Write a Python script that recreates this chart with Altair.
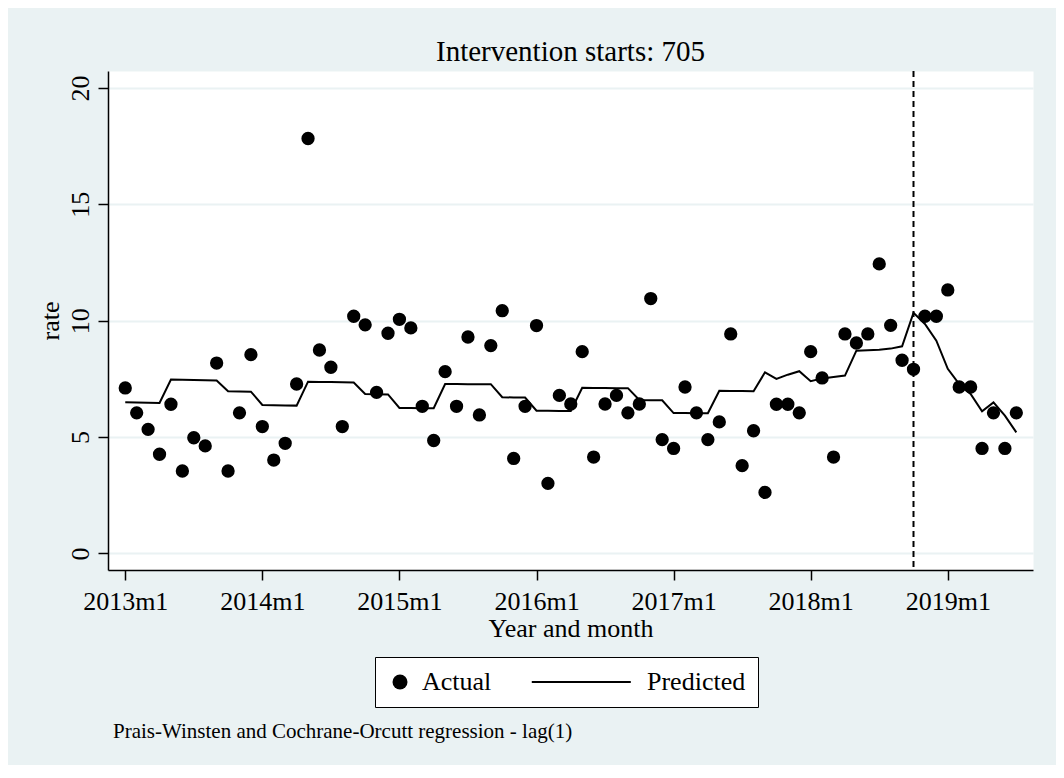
import altair as alt
import pandas as pd

# Stata monthly dates: 636 = 2013m1 ... 714 = 2019m7
months = list(range(636, 715))

actual = [
    7.11, 6.04, 5.33, 4.26, 6.41, 3.54, 4.97, 4.62, 8.18, 3.54, 6.04, 8.54,
    5.45, 4.01, 4.73, 7.28, 17.83, 8.74, 8.00, 5.45, 10.19, 9.82, 6.92, 9.46,
    10.06, 9.69, 6.32, 4.85, 7.81, 6.32, 9.30, 5.95, 8.93, 10.43, 4.08, 6.32,
    9.79, 3.01, 6.79, 6.42, 8.67, 4.14, 6.42, 6.79, 6.04, 6.42, 10.95, 4.89,
    4.51, 7.15, 6.04, 4.89, 5.65, 9.43, 3.77, 5.27, 2.62, 6.41, 6.41, 6.04,
    8.67, 7.54, 4.14, 9.43, 9.04, 9.43, 12.44, 9.80, 8.30, 7.91, 10.19, 10.19,
    11.32, 7.15, 7.15, 4.51, 6.04, 4.51, 6.04,
]

predicted = [
    6.49, 6.48, 6.47, 6.46, 7.47, 7.46, 7.45, 7.44, 7.43, 6.97, 6.96, 6.95,
    6.38, 6.37, 6.36, 6.35, 7.38, 7.37, 7.36, 7.35, 7.34, 6.85, 6.84, 6.83,
    6.25, 6.25, 6.24, 6.24, 7.28, 7.28, 7.27, 7.27, 7.27, 6.71, 6.70, 6.70,
    6.13, 6.13, 6.12, 6.12, 7.12, 7.11, 7.11, 7.10, 7.10, 6.59, 6.58, 6.58,
    6.03, 6.03, 6.02, 6.02, 6.99, 6.98, 6.98, 6.97, 7.78, 7.50, 7.68, 7.83,
    7.40, 7.52, 7.58, 7.64, 8.71, 8.73, 8.75, 8.80, 8.90, 10.34, 9.86, 9.14,
    7.93, 7.28, 6.85, 6.11, 6.49, 5.92, 5.20,
]

intervention = [705]
series_names = ["Actual", "Predicted"]
x_ticks = [636, 648, 660, 672, 684, 696, 708]
y_ticks = [0, 5, 10, 15, 20]
title_text = "Intervention starts: 705"
x_title = "Year and month"
y_title = "rate"
footnote = ["Prais-Winsten and Cochrane-Orcutt regression - lag(1)"]

FONT = "Liberation Serif"
BG = "#EAF2F3"
W, H = 925, 499

# legend key glyphs in unit coordinates (legend symbol size 225 -> 7.5 px per unit)
KEY_DOT = "circle"
KEY_LINE = "M-12.43,-0.1333H0.773V0.1333H-12.43Z"

df = pd.DataFrame({"month": months, "Actual": actual, "Predicted": predicted})
long = df.melt("month", var_name="series", value_name="rate")

x_enc = alt.X(
    "month:Q",
    scale=alt.Scale(domain=[634.49, 715.46], nice=False, zero=False),
    axis=alt.Axis(
        values=x_ticks,
        labelExpr="(floor(datum.value / 12) + 1960) + 'm' + (datum.value % 12 + 1)",
        title=x_title,
        grid=False,
        domainColor="#000000", domainWidth=1.5,
        tickColor="#000000", tickWidth=1.5, tickSize=10,
        labelFont=FONT, labelFontSize=26, labelColor="#000000",
        labelBaseline="alphabetic", labelPadding=29, labelFlush=False,
        labelOverlap=False,
        titleFont=FONT, titleFontSize=26, titleFontWeight="normal",
        titleColor="#000000", titleBaseline="alphabetic", titleAlign="center",
        titleX=W / 2, titleY=66.4,
    ),
)

y_enc = alt.Y(
    "rate:Q",
    scale=alt.Scale(domain=[-0.714, 20.73], nice=False, zero=False),
    axis=alt.Axis(
        values=y_ticks,
        title=y_title,
        grid=True, gridColor=BG, gridWidth=2,
        domainColor="#000000", domainWidth=1.5,
        tickColor="#000000", tickWidth=1.5, tickSize=10,
        labelFont=FONT, labelFontSize=26, labelColor="#000000",
        labelAngle=270, labelAlign="center", labelBaseline="alphabetic",
        labelPadding=10, labelOverlap=False,
        titleFont=FONT, titleFontSize=26, titleFontWeight="normal",
        titleColor="#000000", titleAngle=270, titleBaseline="alphabetic",
        titleAlign="center", titleX=-50, titleY=H / 2,
    ),
)

legend = alt.Legend(
    title=None,
    orient="none",
    legendX=267,
    legendY=586,
    direction="horizontal",
    columns=2,
    columnPadding=36,
    padding=12,
    strokeColor="#000000",
    fillColor="#FFFFFF",
    labelFont=FONT,
    labelFontSize=26,
    labelColor="#000000",
    labelLimit=600,
    labelOffset=9,
    symbolSize=225,
    symbolOpacity=1,
)

base = alt.Chart(long)

points = base.transform_filter(alt.datum.series == "Actual").mark_circle(
    size=177, opacity=1, color="#000000"
).encode(x=x_enc, y=y_enc)

line = base.transform_filter(alt.datum.series == "Predicted").mark_line(
    strokeWidth=2, color="#000000"
).encode(x=x_enc, y=y_enc)

# legend-only layer (no rows drawn); the legend comes from the series list
key = base.transform_filter("false").mark_point(filled=True, color="#000000").encode(
    x=x_enc,
    y=y_enc,
    shape=alt.Shape(
        "series:N",
        scale=alt.Scale(domain=series_names, range=[KEY_DOT, KEY_LINE]),
        legend=legend,
    ),
)

rule = alt.Chart(pd.DataFrame({"month": intervention})).mark_rule(
    color="#000000", strokeWidth=2, strokeDash=[6, 4]
).encode(x=x_enc)

note = alt.Chart(pd.DataFrame({"note": footnote})).mark_text(
    align="left", baseline="alphabetic", font=FONT, fontSize=21, color="#000000"
).encode(x=alt.value(5), y=alt.value(666.6), text="note:N")

chart = alt.layer(rule, line, points, key, note).properties(
    width=W,
    height=H,
    title=alt.TitleParams(
        title_text, font=FONT, fontSize=29, fontWeight="normal",
        color="#000000", anchor="middle", offset=10, baseline="alphabetic",
        dy=30,
    ),
    background=BG,
    padding={"left": 100, "top": 63, "right": 23, "bottom": 195},
    autosize=alt.AutoSizeParams(type="none"),
).configure_view(fill="#FFFFFF", stroke="transparent")

chart.save("out.html", embed_options={"renderer": "svg", "actions": False})
